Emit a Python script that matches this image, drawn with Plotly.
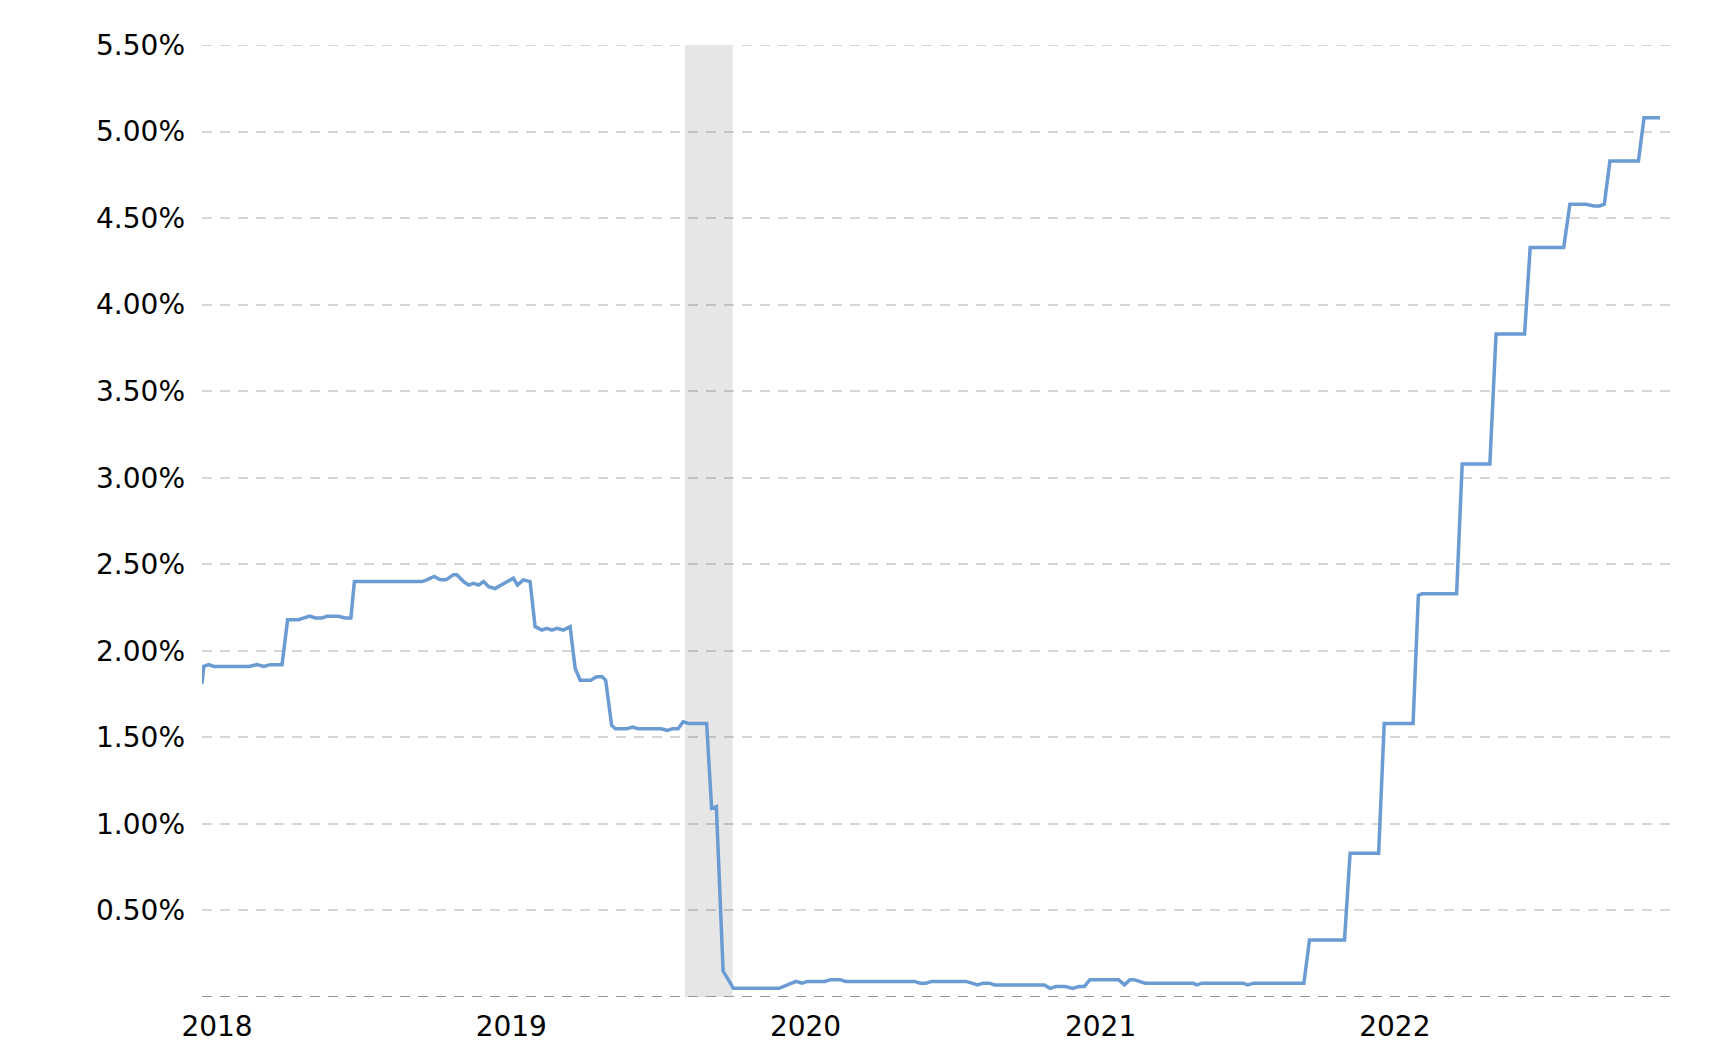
import plotly.graph_objects as go
from datetime import datetime

# ---- data (x as decimal year positions) ----
year_pos = [
    2017.949, 2017.955, 2017.972, 2017.989, 2018.108, 2018.136, 2018.159, 2018.181, 2018.221,
    2018.240, 2018.277, 2018.315, 2018.334, 2018.357, 2018.374, 2018.413, 2018.436, 2018.455,
    2018.467, 2018.696, 2018.713, 2018.738, 2018.759, 2018.778, 2018.804, 2018.815, 2018.838,
    2018.855, 2018.872, 2018.889, 2018.906, 2018.923, 2018.945, 2019.007, 2019.021, 2019.041,
    2019.064, 2019.081, 2019.104, 2019.121, 2019.138, 2019.155, 2019.177, 2019.200, 2019.217,
    2019.234, 2019.270, 2019.290, 2019.309, 2019.321, 2019.341, 2019.354, 2019.393, 2019.412,
    2019.431, 2019.509, 2019.531, 2019.548, 2019.567, 2019.584, 2019.603, 2019.664, 2019.681,
    2019.697, 2019.720, 2019.755, 2019.910, 2019.936, 2019.968, 2019.988, 2020.007, 2020.065,
    2020.085, 2020.117, 2020.136, 2020.369, 2020.389, 2020.408, 2020.428, 2020.544, 2020.583,
    2020.602, 2020.622, 2020.641, 2020.809, 2020.829, 2020.848, 2020.880, 2020.906, 2020.926,
    2020.945, 2020.964, 2021.061, 2021.081, 2021.100, 2021.113, 2021.152, 2021.314, 2021.327,
    2021.345, 2021.484, 2021.500, 2021.521, 2021.691, 2021.710, 2021.829, 2021.848, 2021.945,
    2021.964, 2022.062, 2022.080, 2022.093, 2022.210, 2022.229, 2022.323, 2022.344, 2022.441,
    2022.460, 2022.574, 2022.595, 2022.649, 2022.677, 2022.696, 2022.712, 2022.731, 2022.828,
    2022.847, 2022.901,
]
rate_pct = [
    1.81, 1.91, 1.92, 1.91, 1.91, 1.92, 1.91, 1.92, 1.92,
    2.18, 2.18, 2.20, 2.19, 2.19, 2.20, 2.20, 2.19, 2.19,
    2.40, 2.40, 2.41, 2.43, 2.41, 2.41, 2.44, 2.44, 2.40,
    2.38, 2.39, 2.38, 2.40, 2.37, 2.36, 2.42, 2.38, 2.41,
    2.40, 2.14, 2.12, 2.13, 2.12, 2.13, 2.12, 2.14, 1.90,
    1.83, 1.83, 1.85, 1.85, 1.83, 1.57, 1.55, 1.55, 1.56,
    1.55, 1.55, 1.54, 1.55, 1.55, 1.59, 1.58, 1.58, 1.09,
    1.10, 0.15, 0.05, 0.05, 0.07, 0.09, 0.08, 0.09, 0.09,
    0.10, 0.10, 0.09, 0.09, 0.08, 0.08, 0.09, 0.09, 0.07,
    0.08, 0.08, 0.07, 0.07, 0.05, 0.06, 0.06, 0.05, 0.06,
    0.06, 0.10, 0.10, 0.07, 0.10, 0.10, 0.08, 0.08, 0.07,
    0.08, 0.08, 0.07, 0.08, 0.08, 0.33, 0.33, 0.83, 0.83,
    1.58, 1.58, 2.32, 2.33, 2.33, 3.08, 3.08, 3.83, 3.83,
    4.33, 4.33, 4.58, 4.58, 4.57, 4.57, 4.58, 4.83, 4.83,
    5.08, 5.08,
]

recession_start = 2019.590
recession_end = 2019.752

x_range_years = [2017.949, 2022.942]
x_tick_years = [2018, 2019, 2020, 2021, 2022]
x_tick_labels = ["2018", "2019", "2020", "2021", "2022"]
y_range = [0, 5.5]
y_tick_vals = [0.5, 1.0, 1.5, 2.0, 2.5, 3.0, 3.5, 4.0, 4.5, 5.0, 5.5]
y_tick_labels = ["0.50%", "1.00%", "1.50%", "2.00%", "2.50%", "3.00%",
                 "3.50%", "4.00%", "4.50%", "5.00%", "5.50%"]


def to_date(y):
    yr = int(y)
    start = datetime(yr, 1, 1)
    end = datetime(yr + 1, 1, 1)
    return start + (end - start) * (y - yr)


dates = [to_date(v) for v in year_pos]

FONT = "DejaVu Sans, Verdana, sans-serif"
GRID = "rgba(0,0,0,0.16)"
DASH = "10px,8px"

fig = go.Figure()
fig.add_trace(go.Scatter(
    x=dates, y=rate_pct, mode="lines",
    line=dict(color="#6a9bd3", width=3.5),
    hoverinfo="skip", showlegend=False,
))

# recession shading
fig.add_shape(type="rect", xref="x", yref="y",
              x0=to_date(recession_start), x1=to_date(recession_end),
              y0=y_range[0], y1=y_range[1], fillcolor="#e6e6e6",
              line=dict(width=0), layer="below")
# top gridline (plotly hides the gridline at the range edge)
fig.add_shape(type="line", xref="paper", yref="y", x0=0, x1=1,
              y0=y_range[1], y1=y_range[1],
              line=dict(color=GRID, width=2, dash=DASH), layer="below")
# darker dashed baseline
fig.add_shape(type="line", xref="paper", yref="y", x0=0, x1=1,
              y0=y_range[0], y1=y_range[0],
              line=dict(color="#999999", width=2, dash=DASH), layer="above")

fig.update_layout(
    width=1712, height=1034,
    margin=dict(l=194, r=48, t=37, b=45, pad=0, autoexpand=False),
    paper_bgcolor="white", plot_bgcolor="white",
    font=dict(family=FONT, size=28, color="#000000"),
    xaxis=dict(
        type="date", automargin=False,
        range=[to_date(x_range_years[0]), to_date(x_range_years[1])],
        tickvals=[datetime(y, 1, 1) for y in x_tick_years],
        ticktext=x_tick_labels,
        showgrid=False, zeroline=False, showline=False,
        ticks="", ticklabelstandoff=10,
        tickfont=dict(family=FONT, size=28, color="#000000"),
    ),
    yaxis=dict(
        range=y_range, automargin=False,
        tickvals=y_tick_vals, ticktext=y_tick_labels,
        showgrid=True, gridcolor=GRID, gridwidth=2,
        griddash=DASH,
        zeroline=False, showline=False, ticks="",
        ticklabelstandoff=16,
        tickfont=dict(family=FONT, size=28, color="#000000"),
    ),
)

fig.write_html("out.html")
